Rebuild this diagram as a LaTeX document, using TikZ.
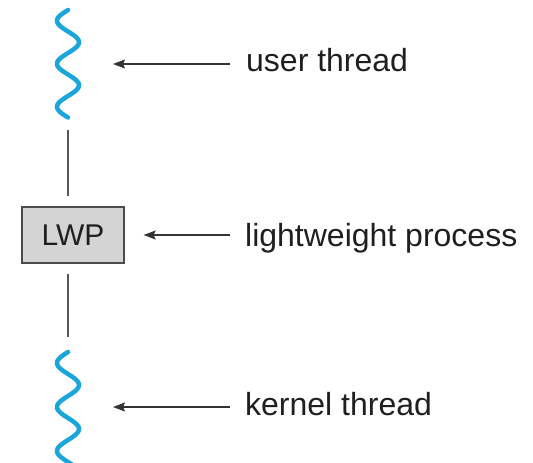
\documentclass[tikz,border=0pt]{standalone}
\usepackage{fontspec}
\setmainfont{Liberation Sans}
\usetikzlibrary{positioning, arrows.meta}

\definecolor{threadblue}{HTML}{1AA5DB}

\begin{document}
\begin{tikzpicture}[
        x=1pt, y=-1pt,
        % Testo sans, quasi nero
        every node/.style={font=\fontsize{32}{38}\selectfont, text=black!88},
        % Thread: linea ondulata azzurra
        thread/.style={draw=threadblue, line width=4.5pt, line cap=round},
        % Collegamenti verticali grigi
        link/.style={draw=black!65, line width=1.3pt},
        % Frecce sottili
        arrow/.style={-{Stealth[length=12pt, width=9pt, inset=2pt]}, line width=1.3pt, draw=black!80},
        lwpbox/.style={draw=black!70, fill=black!17, line width=1.3pt, minimum width=102pt, minimum height=56pt, inner sep=0pt, font=\fontsize{30}{36}\selectfont},
        desc/.style={anchor=base west, inner sep=0pt}
    ]

    \useasboundingbox (0,0) rectangle (533,463);

    % --- User thread ---
    \coordinate (ut-top) at (68,10);
    \coordinate (ut-bottom) at (68,117.5);
    \draw[thread] plot[domain=0:107.5, samples=90, smooth] ({68-11*sin(\x/43*360)}, {10+\x});

    % --- LWP ---
    \node[lwpbox] (lwp) at (73,235) {LWP};

    % --- Kernel thread ---
    \coordinate (kt-top) at (68,352);
    \draw[thread] plot[domain=0:118, samples=90, smooth] ({68-11*sin(\x/44*360)}, {352+\x});

    % --- Connections ---
    \draw[link, shorten <=12pt, shorten >=10pt] (ut-bottom) -- (ut-bottom |- lwp.north);
    \draw[link, shorten <=10pt, shorten >=15pt] (kt-top |- lwp.south) -- (kt-top);

    % === LABELS ===
    \node[desc] (user) at (246,71) {user thread};
    \node[desc] (light) at (245,246) {lightweight process};
    \node[desc] (kernel) at (245,415) {kernel thread};

    % Frecce verso i thread
    \coordinate (ut-tail) at (230,64);
    \coordinate (ut-tip) at (113,64);
    \coordinate (lwp-tail) at (230,235);
    \coordinate (kt-tail) at (230,407);
    \coordinate (kt-tip) at (113,407);
    \draw[arrow] (ut-tail) -- (ut-tip);
    \draw[arrow, shorten >=19pt] (lwp-tail) -- (lwp);
    \draw[arrow] (kt-tail) -- (kt-tip);

\end{tikzpicture}
\end{document}
